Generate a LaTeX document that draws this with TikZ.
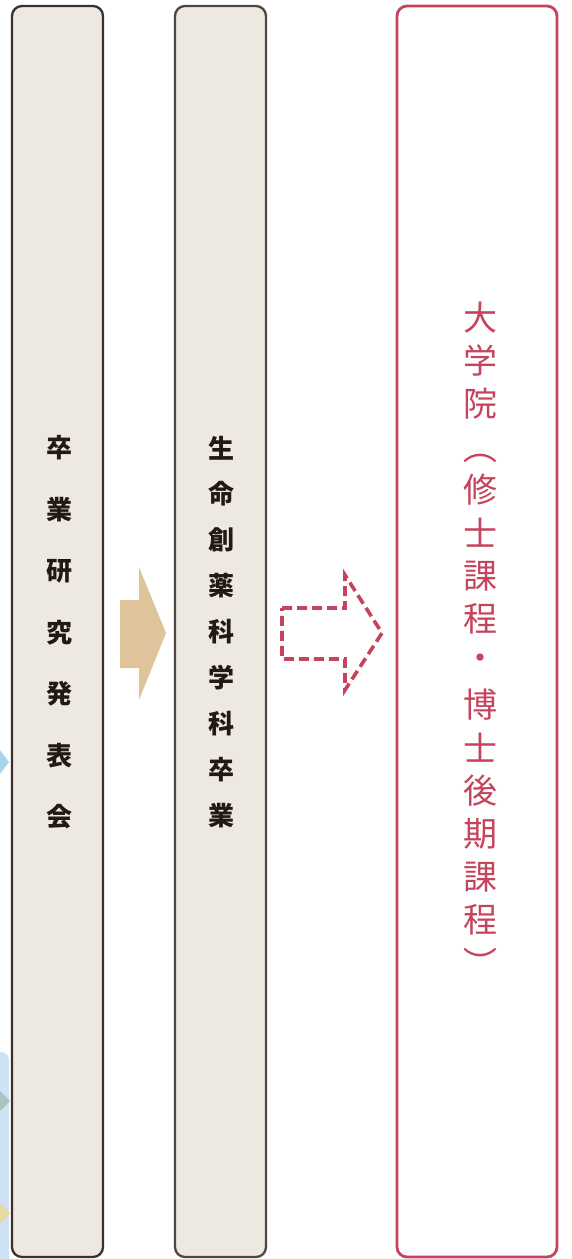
\documentclass[tikz,border=0pt]{standalone}
\usepackage{fontspec}
\newfontfamily\jp{Noto Sans CJK JP}
\definecolor{boxfill}{HTML}{EDE9E0}
\definecolor{boxline}{HTML}{3A302D}
\definecolor{boxlinetwo}{HTML}{4E4644}
\definecolor{accent}{HTML}{C5445C}
\definecolor{tan}{HTML}{DFC49B}
\definecolor{ltblue}{HTML}{A8D4EE}
\definecolor{paleblue}{HTML}{CFE2F3}
\definecolor{sage}{HTML}{A9C4BE}
\definecolor{straw}{HTML}{E7D9A0}
\definecolor{ink}{HTML}{231815}
\begin{document}
\begin{tikzpicture}[x=1pt,y=-1pt,
  colbox/.style={fill=boxfill,draw=boxline,line width=2.3pt,rounded corners=10pt},
  bchar/.style={font=\jp\bfseries\fontsize{26}{26}\selectfont,text=ink,inner sep=0pt},
  rchar/.style={font=\jp\fontsize{34}{34}\selectfont,text=accent,inner sep=0pt}]
\useasboundingbox (0,0) rectangle (572,1259);
\clip (0,0) rectangle (572,1259);
% partial shapes at left edge
\fill[ltblue] (-6,742) -- (9,762) -- (-6,782) -- cycle;
\fill[paleblue,rounded corners=8pt] (-30,1052) rectangle (9,1290);
\fill[sage] (-4,1087) -- (10,1101) -- (-4,1115) -- cycle;
\fill[straw] (-4,1199) -- (10,1213) -- (-4,1227) -- cycle;
% column boxes
\node[colbox,minimum width=91pt,minimum height=1251pt,inner sep=0pt] (b1) at (57.5,631.5) {};
\node[colbox,draw=boxlinetwo,minimum width=91pt,minimum height=1251pt,inner sep=0pt] (b2) at (220.5,631.5) {};
\node[fill=white,draw=accent,line width=2.8pt,rounded corners=10pt,minimum width=160pt,minimum height=1251pt,inner sep=0pt] (b3) at (477,631.5) {};
% box 1 text
\foreach \c [count=\i from 0] in {卒,業,研,究,発,表,会}
  \node[bchar] (t1-\i) at (59,448+61.5*\i) {\c};
% box 2 text
\foreach \c [count=\i from 0] in {生,命,創,薬,科,学,科,卒,業}
  \node[bchar] (t2-\i) at (221,448+45.9*\i) {\c};
% box 3 text
\foreach \c [count=\i from 0] in {大,学,院}
  \node[rchar] (t3-\i) at (480,318+43*\i) {\c};
\node[rchar,rotate=-90] (t3-p1) at (480,447) {（};
\foreach \c [count=\i from 4] in {修,士,課,程,・,博,士,後,期,課,程}
  \node[rchar] (t3-\i) at (480,318+43*\i) {\c};
\node[rchar,rotate=-90] (t3-p2) at (480,963) {）};
% tan arrow
\fill[tan] (120,600) -- (139,600) -- (139,567) -- (166,633) -- (139,700) -- (139,668) -- (120,668) -- cycle;
% dashed arrow
\draw[accent,line width=3.6pt,dash pattern=on 10pt off 5pt]
  (282,608) -- (345,608) -- (345,575) -- (382,633) -- (345,690) -- (345,659) -- (282,659) -- cycle;
\end{tikzpicture}
\end{document}
